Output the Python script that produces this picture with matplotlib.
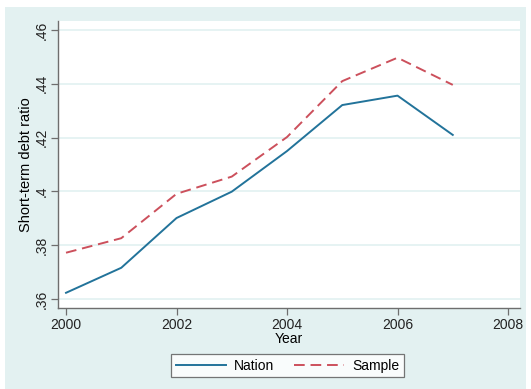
import matplotlib.pyplot as plt
from matplotlib.patches import Rectangle

plt.rcParams['font.family'] = ['Liberation Sans', 'DejaVu Sans']

# short-term debt ratio by year
years = [2000, 2001, 2002, 2003, 2004, 2005, 2006, 2007]
nation = [0.3623, 0.3716, 0.3901, 0.3999, 0.4150, 0.4321, 0.4356, 0.4210]
sample = [0.3772, 0.3826, 0.3991, 0.4055, 0.4202, 0.4410, 0.4497, 0.4396]

xticks = [2000, 2002, 2004, 2006, 2008]
yticks = [0.36, 0.38, 0.40, 0.42, 0.44, 0.46]
ytick_labels = ['.36', '.38', '.4', '.42', '.44', '.46']

W, H = 531, 389
bg = '#e3f1f1'
axis_col = '#6e6e6e'

fig = plt.figure(figsize=(W / 100, H / 100), dpi=100)
fig.patch.set_facecolor('white')
# graph region
fig.patches.append(Rectangle((5 / W, 0), 521 / W, 1 - 7 / H,
                             transform=fig.transFigure, facecolor=bg,
                             edgecolor='none', zorder=-5))

ax = fig.add_axes([58 / W, 1 - 308 / H, 462 / W, 287 / H])
ax.set_facecolor('white')

ax.plot(years, nation, color='#22739a', lw=1.4, label='Nation')
ax.plot(years, sample, color='#cc505c', lw=1.4, dashes=(5.5, 3), label='Sample')

ax.set_xlim(1999.855, 2008.217)
ax.set_ylim(0.35665, 0.46335)
ax.set_xticks(xticks)
ax.set_yticks(yticks)
ax.set_yticklabels(ytick_labels, rotation=90, va='center')
ax.grid(axis='y', color='#e2f1f1', lw=1.2)
ax.set_axisbelow(True)

for s in ['top', 'right']:
    ax.spines[s].set_visible(False)
for s in ['left', 'bottom']:
    ax.spines[s].set_color(axis_col)
    ax.spines[s].set_linewidth(1.0)
ax.tick_params(colors='#222222', labelsize=10, length=5, width=0.9,
               color=axis_col, pad=2)
ax.tick_params(axis='y', pad=1.5)

ax.set_xlabel('Year', fontsize=10, labelpad=0)
ax.set_ylabel('Short-term debt ratio', fontsize=10.5, labelpad=1.5)

leg = ax.legend(loc='upper center', bbox_to_anchor=(0.497, -0.135), ncol=2,
                frameon=True, fancybox=False, fontsize=10,
                handlelength=3.6, handletextpad=0.55, columnspacing=1.45,
                borderpad=0.35)
leg.get_frame().set_edgecolor('#555555')
leg.get_frame().set_linewidth(0.9)

fig.savefig('out.png', dpi=100)
